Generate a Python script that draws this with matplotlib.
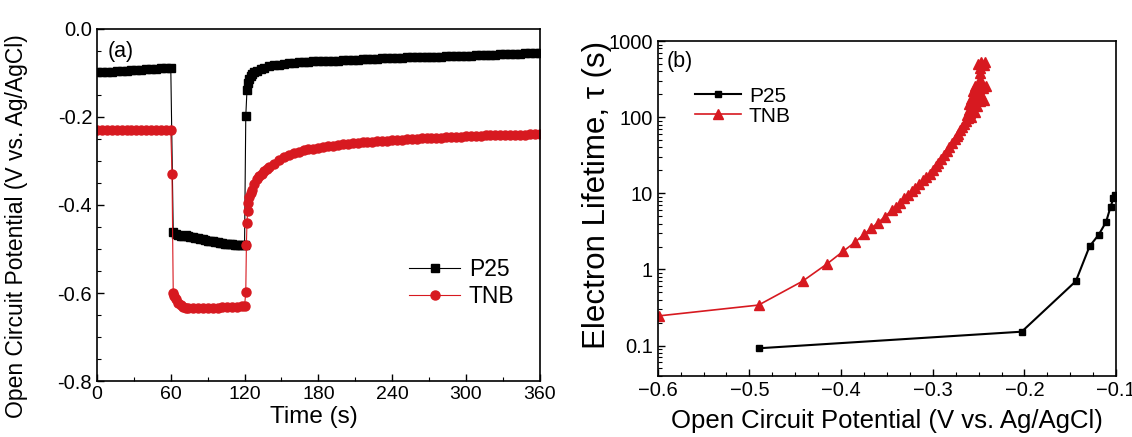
import matplotlib
matplotlib.use("Agg")
import matplotlib.pyplot as plt
from matplotlib.ticker import MultipleLocator, LogLocator, NullFormatter

plt.rcParams['font.family'] = ['Liberation Sans', 'DejaVu Sans']

# ---- panel (a): open circuit potential vs time ----
p25_t = (list(range(0, 61, 4)) + list(range(62, 121, 2))
         + [121, 122, 123, 124, 125, 126, 128, 130, 133, 136, 140] + list(range(144, 361, 4)))
p25_v = [-0.099, -0.098, -0.098, -0.097, -0.096, -0.096, -0.095, -0.094,
         -0.094, -0.093, -0.092, -0.092, -0.091, -0.090, -0.089, -0.088,
         -0.462, -0.466, -0.468, -0.470, -0.470, -0.469, -0.470, -0.472, -0.473, -0.474,
         -0.476, -0.477, -0.478, -0.480, -0.481, -0.482, -0.483, -0.484, -0.485, -0.486,
         -0.487, -0.488, -0.488, -0.489, -0.489, -0.490, -0.490, -0.491, -0.491, -0.492,
         -0.198, -0.138, -0.122, -0.113, -0.107, -0.103, -0.098, -0.095, -0.091, -0.088, -0.085,
         -0.083, -0.081, -0.080, -0.078, -0.077, -0.076, -0.076, -0.075, -0.074, -0.074,
         -0.073, -0.073, -0.072, -0.072, -0.071, -0.071, -0.070, -0.070, -0.069, -0.069,
         -0.068, -0.068, -0.067, -0.067, -0.067, -0.066, -0.066, -0.065, -0.065, -0.065,
         -0.064, -0.064, -0.064, -0.063, -0.063, -0.062, -0.062, -0.062, -0.061, -0.061,
         -0.061, -0.060, -0.060, -0.059, -0.059, -0.059, -0.058, -0.058, -0.057, -0.057,
         -0.057, -0.056, -0.056, -0.055, -0.055]

tnb_t = (list(range(0, 61, 4)) + [61, 62, 63, 64, 66, 68, 70, 72, 74] + list(range(78, 119, 4))
         + [120, 121, 121.5, 122, 122.5, 123, 124, 125, 126, 128, 130, 132, 134, 136, 138, 140,
            144, 148, 152, 156, 160] + list(range(164, 361, 4)))
tnb_v = [-0.230] * 16 + [
    -0.330, -0.600, -0.606, -0.613, -0.622, -0.628, -0.632, -0.634, -0.635,
    -0.635, -0.635, -0.634, -0.634, -0.633, -0.633, -0.632, -0.632, -0.631, -0.631, -0.630,
    -0.630, -0.598, -0.490, -0.440, -0.413, -0.395, -0.383, -0.373, -0.365, -0.352, -0.342,
    -0.335, -0.329, -0.324, -0.319, -0.314, -0.306, -0.298, -0.292, -0.287, -0.282,
    -0.279, -0.276, -0.274, -0.272, -0.270, -0.268, -0.266, -0.265, -0.263, -0.262,
    -0.261, -0.260, -0.259, -0.258, -0.257, -0.256, -0.255, -0.255, -0.254, -0.253,
    -0.252, -0.252, -0.251, -0.250, -0.250, -0.249, -0.248, -0.248, -0.247, -0.247,
    -0.246, -0.246, -0.245, -0.245, -0.244, -0.244, -0.243, -0.243, -0.242, -0.242,
    -0.242, -0.241, -0.241, -0.241, -0.240, -0.240, -0.240, -0.239, -0.239, -0.239]

# ---- panel (b): electron lifetime vs potential ----
p25_voc = [-0.490, -0.203, -0.144, -0.129, -0.119, -0.111, -0.106, -0.103, -0.101]
p25_tau = [0.092, 0.152, 0.70, 2.01, 2.86, 4.2, 6.7, 8.6, 9.5]

tnb_voc = [-0.599, -0.490, -0.442, -0.415, -0.398, -0.385, -0.375, -0.367, -0.360, -0.352,
           -0.345, -0.340, -0.336, -0.331, -0.327, -0.323, -0.319, -0.315, -0.311, -0.307,
           -0.303, -0.300, -0.297, -0.294, -0.291, -0.288, -0.285, -0.282, -0.279, -0.276,
           -0.274, -0.272, -0.270, -0.268, -0.266, -0.264, -0.262, -0.258, -0.263, -0.259,
           -0.254, -0.261, -0.257, -0.252, -0.260, -0.255, -0.249, -0.244, -0.258, -0.252,
           -0.247, -0.256, -0.250, -0.245, -0.242, -0.254, -0.248, -0.248, -0.248, -0.248,
           -0.251, -0.247, -0.243, -0.244]
tnb_tau = [0.245, 0.34, 0.70, 1.19, 1.72, 2.27, 2.89, 3.5, 4.1, 4.95,
           6.0, 6.7, 7.4, 8.6, 9.5, 10.6, 11.8, 13.1, 14.8, 16.5,
           18.2, 20, 22.5, 25, 28.5, 32, 36, 40.5, 46, 52,
           56, 60.5, 67, 74, 82, 90, 98, 100, 108, 115,
           118, 125, 135, 140, 150, 160, 165, 170, 175, 185,
           195, 220, 235, 245, 255, 255, 270, 320, 380, 440,
           500, 530, 530, 490]

black = 'black'
red = '#d71920'

fig = plt.figure(figsize=(11.32, 4.37), dpi=100)
ax1 = fig.add_axes([0.0857, 0.128, 0.391, 0.806])
ax2 = fig.add_axes([0.581, 0.140, 0.405, 0.766])

ax1.plot(p25_t, p25_v, color=black, lw=0.8, marker='s', ms=6, label='P25')
ax1.plot(tnb_t, tnb_v, color=red, lw=0.8, marker='o', ms=6.5, label='TNB')
ax1.set_xlim(0, 360)
ax1.set_ylim(-0.8, 0.0)
ax1.xaxis.set_major_locator(MultipleLocator(60))
ax1.xaxis.set_minor_locator(MultipleLocator(30))
ax1.yaxis.set_major_locator(MultipleLocator(0.2))
ax1.yaxis.set_minor_locator(MultipleLocator(0.05))
ax1.yaxis.set_major_formatter(plt.FuncFormatter(lambda v, p: '%.1f' % v if abs(v) > 1e-9 else '0.0'))
ax1.set_xlabel('Time (s)', fontsize=17.5)
ax1.set_ylabel('Open Circuit Potential (V vs. Ag/AgCl)', fontsize=16.5)
ax1.xaxis.set_label_coords(0.49, -0.07)
ax1.yaxis.set_label_coords(-0.156, 0.44)
ax1.text(0.025, 0.965, '(a)', transform=ax1.transAxes, fontsize=15.5, va='top')
ax1.legend(loc='lower right', bbox_to_anchor=(0.99, 0.15), frameon=False, fontsize=16.5,
           handlelength=2.2, handletextpad=0.4, labelspacing=0.15)

ax2.semilogy(p25_voc, p25_tau, color=black, lw=1.5, marker='s', ms=5, label='P25')
ax2.semilogy(tnb_voc, tnb_tau, color=red, lw=1.2, marker='^', ms=7, label='TNB')
ax2.set_xlim(-0.6, -0.1)
ax2.set_ylim(0.04, 1000)
ax2.xaxis.set_major_locator(MultipleLocator(0.1))
ax2.xaxis.set_minor_locator(MultipleLocator(0.025))
ax2.yaxis.set_major_locator(LogLocator(base=10, numticks=10))
ax2.yaxis.set_minor_locator(LogLocator(base=10, subs=range(2, 10), numticks=10))
ax2.yaxis.set_minor_formatter(NullFormatter())
ax2.yaxis.set_major_formatter(plt.FuncFormatter(lambda v, p: '%g' % v))
ax2.set_xlabel('Open Circuit Potential (V vs. Ag/AgCl)', fontsize=18.5)
ax2.set_ylabel('Electron Lifetime, \u03c4 (s)', fontsize=22.5)
ax2.xaxis.set_label_coords(0.5, -0.1)
ax2.yaxis.set_label_coords(-0.1, 0.54)
ax2.text(0.02, 0.97, '(b)', transform=ax2.transAxes, fontsize=15.5, va='top')
ax2.legend(loc='upper left', bbox_to_anchor=(0.04, 0.92), frameon=False, fontsize=15,
           handlelength=2.2, handletextpad=0.4, labelspacing=0.05)

for ax in (ax1, ax2):
    ax.tick_params(which='both', direction='in', top=False, right=False, labelsize=14.5)
    ax.tick_params(which='major', length=5, width=1)
    ax.tick_params(which='minor', length=3, width=0.8)
    for s in ax.spines.values():
        s.set_linewidth(1.2)
ax1.tick_params(axis='x', labelsize=14)

fig.savefig('out.png', dpi=100)
